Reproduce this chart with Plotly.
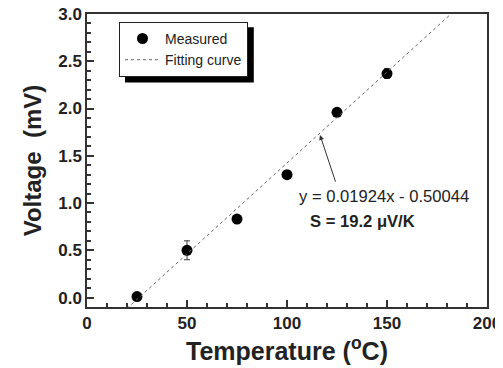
import plotly.graph_objects as go

# Data
temperature = [25, 50, 75, 100, 125, 150]
voltage = [0.01, 0.50, 0.83, 1.30, 1.96, 2.37]
voltage_err = [0.02, 0.10, 0.03, 0.02, 0.04, 0.05]
fit_slope = 0.01924
fit_intercept = -0.50044
fit_x = [20, 185]
fit_y = [fit_slope * x + fit_intercept for x in fit_x]

font_family = "Arial, Liberation Sans, sans-serif"

fig = go.Figure()
fig.add_trace(go.Scatter(
    x=temperature, y=voltage, mode="markers", name="Measured",
    marker=dict(color="black", size=11),
    error_y=dict(type="data", array=voltage_err, color="#333", thickness=1, width=3),
))
fig.add_trace(go.Scatter(
    x=fit_x, y=fit_y, mode="lines", name="Fitting curve",
    line=dict(color="#666", width=1, dash="dot"),
))

fig.add_annotation(x=116.5, y=1.72, ax=124.5, ay=1.21, axref="x", ayref="y",
                   xref="x", yref="y", text="", showarrow=True,
                   arrowhead=2, arrowsize=1, arrowwidth=1, arrowcolor="#333")
fig.add_annotation(x=105, y=1.064, xref="x", yref="y", xanchor="left", yanchor="middle",
                   text="y = 0.01924x - 0.50044", showarrow=False,
                   font=dict(family=font_family, size=16.6, color="#222"))
fig.add_annotation(x=110.5, y=0.80, xref="x", yref="y", xanchor="left", yanchor="middle",
                   text="<b>S = 19.2 μV/K</b>", showarrow=False,
                   font=dict(family=font_family, size=16.6, color="#222"))

# legend shadow
fig.add_shape(type="rect", xref="paper", yref="paper",
              x0=0.095, x1=0.417, y0=0.766, y1=0.955,
              fillcolor="black", line=dict(width=0), layer="above")

axis_common = dict(
    showline=True, linecolor="#333", linewidth=1.5, mirror=True,
    ticks="inside", ticklen=7, tickwidth=1.5, tickcolor="#333",
    showgrid=False, zeroline=False, automargin=False, ticklabeloverflow="allow",
    tickfont=dict(family=font_family, size=17, color="#222", weight="bold"),
)

# the page has an 8px body margin, so the figure is 8px smaller and offsets reduced
fig.update_layout(
    width=495, height=360,
    margin=dict(l=79, r=16, t=6, b=61),
    paper_bgcolor="white", plot_bgcolor="white",
    font=dict(family=font_family, color="#222"),
    xaxis=dict(range=[0, 200], dtick=50, tick0=0,
               minor=dict(dtick=10, ticks="inside", ticklen=4, tickcolor="#333"),
               title=dict(text="Temperature (<sup>o</sup>C)", standoff=6,
                          font=dict(family=font_family, size=25, weight="bold", color="#222")),
               **axis_common),
    yaxis=dict(range=[-0.1, 3.0], dtick=0.5, tick0=0, tickformat=".1f",
               minor=dict(dtick=0.1, ticks="inside", ticklen=4, tickcolor="#333"),
               title=dict(text="Voltage  (mV)", standoff=10,
                          font=dict(family=font_family, size=24, weight="bold", color="#222")),
               **axis_common),
    legend=dict(x=0.08, y=0.973, xanchor="left", yanchor="top",
                bgcolor="white", bordercolor="#222", borderwidth=1,
                font=dict(family=font_family, size=14, color="#222"),
                tracegroupgap=0, itemwidth=35),
    showlegend=True,
)

fig.write_html("out.html")
